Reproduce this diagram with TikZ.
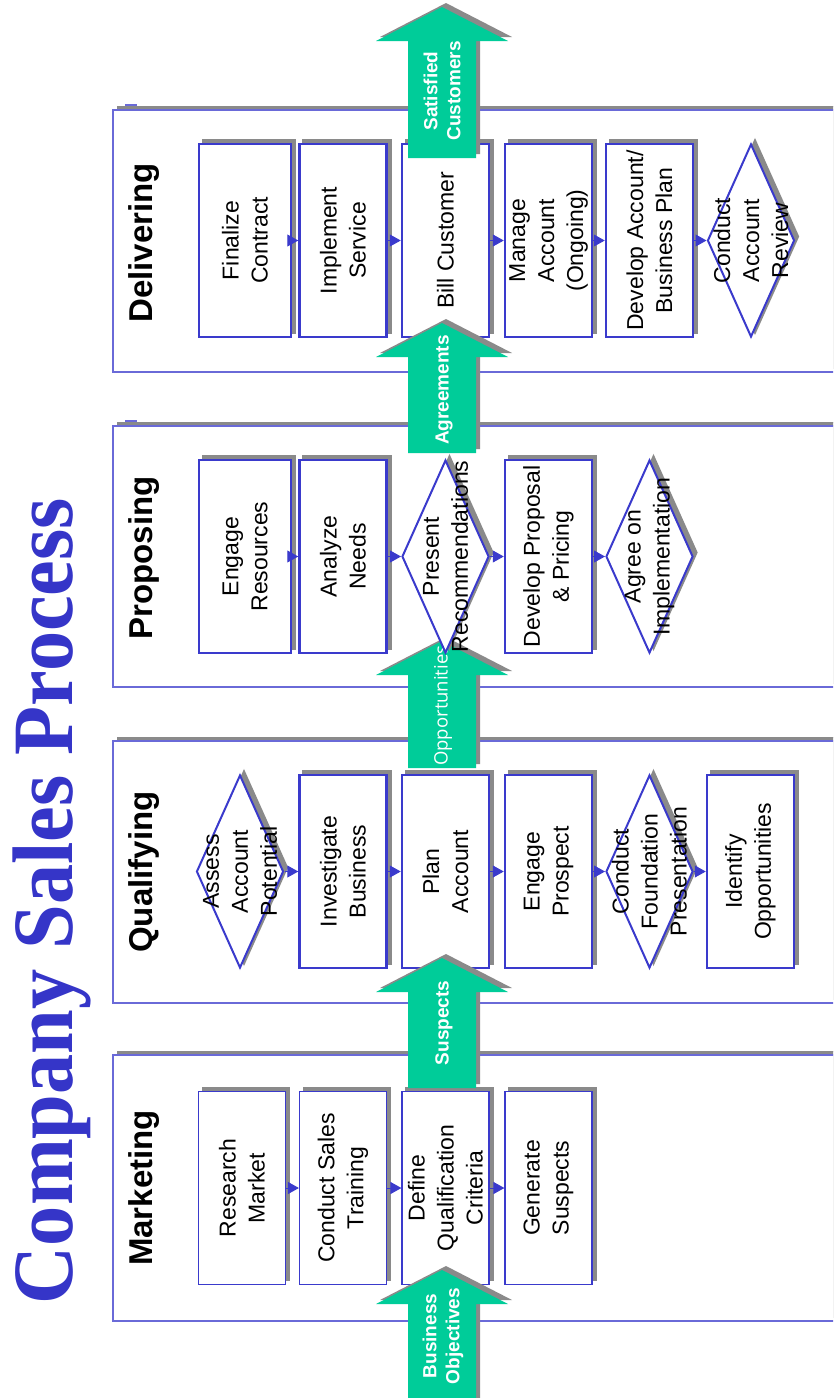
\documentclass[tikz,border=0pt]{standalone}
\usepackage{graphicx}
\usepackage{fontspec}
\setmainfont{Liberation Sans}
\newfontfamily\titlefont{Liberation Serif}
\newfontfamily\oppfont{Open Sans}
\usetikzlibrary{arrows.meta,shapes.geometric}
\definecolor{titleblue}{HTML}{3535C8}
\definecolor{boxblue}{HTML}{3A3ACC}
\definecolor{laneblue}{HTML}{6A6AD8}
\definecolor{flowgreen}{HTML}{00CC99}
\definecolor{shadowgray}{HTML}{8A8A8A}
\tikzset{
  shad/.style={preaction={fill=shadowgray, draw=shadowgray, transform canvas={xshift=4pt,yshift=4pt}}},
  lane/.style={draw=laneblue, line width=1.3pt, fill=white, shad},
  lanelabel/.style={rotate=90, anchor=base, inner sep=0pt, font=\fontsize{33}{38}\selectfont\bfseries},
  stepbox/.style={rotate=90, draw=boxblue, fill=white, line width=1.2pt, minimum width=193pt, minimum height=87pt, inner sep=0pt, align=center, font=\fontsize{23}{29}\selectfont, shad},
  boldbox/.style={stepbox, line width=2.5pt},
  decision/.style={diamond, rotate=90, draw=boxblue, fill=white, line width=2pt, minimum width=193pt, minimum height=87pt, inner sep=0pt, shad},
  dtext/.style={rotate=90, align=center, inner sep=0pt, font=\fontsize{23}{29}\selectfont},
  flow/.style={draw=boxblue, line width=1pt, -{Triangle[length=11pt,width=12pt]}},
  arrowtext/.style={rotate=90, align=center, inner sep=0pt, text=white, font=\fontsize{19}{23}\selectfont\bfseries},
  pics/bigarrow/.style={code={
    \fill[shadowgray,shift={(4,-4)}] (0,0) -- (66,34) -- (34,34) -- (34,#1) -- (-34,#1) -- (-34,34) -- (-66,34) -- cycle;
    \fill[flowgreen] (0,0) -- (66,34) -- (34,34) -- (34,#1) -- (-34,#1) -- (-34,34) -- (-66,34) -- cycle;
  }}
}
\begin{document}
\begin{tikzpicture}[x=1pt,y=-1pt]
\useasboundingbox (0,0) rectangle (833,1398);
\clip (0,0) rectangle (833,1398);
\fill[white] (0,0) rectangle (833,1398);

% title
\node[rotate=90, anchor=base, inner sep=0pt, text=titleblue, font=\titlefont\fontsize{86}{90}\selectfont\bfseries] (title) at (72,901) {\scalebox{0.934}[1]{Company Sales Process}};

% lanes
\draw[lane] (113,1055) rectangle (900,1321);
\draw[lane] (113,741) rectangle (900,1003);
\draw[lane] (113,426) rectangle (900,687);
\draw[lane] (113,110) rectangle (900,372);
\draw[laneblue, line width=2pt] (125,421) -- (137,421);
\draw[laneblue, line width=2pt] (125,105) -- (137,105);

\node[lanelabel] (l-mk) at (152,1188) {Marketing};
\node[lanelabel] (l-qu) at (152,872) {Qualifying};
\node[lanelabel] (l-pr) at (152,558) {Proposing};
\node[lanelabel] (l-de) at (152,243) {Delivering};

% Marketing
\node[stepbox] (rm) at (242,1188) {Research\\Market};
\node[stepbox] (cst) at (343,1188) {Conduct Sales\\Training};
\node[stepbox] (dqc) at (445.5,1188) {Define\\Qualification\\Criteria};
\node[stepbox] (gs) at (548.5,1188) {Generate\\Suspects};

% Qualifying
\node[boldbox] (ib) at (343,871.5) {Investigate\\Business};
\node[boldbox] (pa) at (445.5,871.5) {Plan\\Account};
\node[boldbox] (ep) at (548.5,871.5) {Engage\\Prospect};
\node[boldbox] (io) at (750.5,871.5) {Identify\\Opportunities};

% Proposing
\node[stepbox, minimum height=92pt] (er) at (245,556.5) {Engage\\Resources};
\node[boldbox] (an) at (343,556.5) {Analyze\\Needs};
\node[boldbox] (dpp) at (548.5,556.5) {Develop Proposal\\\& Pricing};

% Delivering
\node[stepbox, minimum height=92pt] (fc) at (245,240.5) {Finalize\\Contract};
\node[boldbox] (is) at (343,240.5) {Implement\\Service};
\node[boldbox] (bc) at (445.5,240.5) {Bill Customer};
\node[boldbox] (ma) at (548.5,240.5) {Manage\\Account\\(Ongoing)};
\node[boldbox] (dab) at (649.5,240.5) {Develop Account/\\Business Plan};

% big green arrows
\pic (a-bo) at (442,1270) {bigarrow=140};
\pic (a-su) at (442,958) {bigarrow=130};
\pic (a-op) at (442,641) {bigarrow=127};
\pic (a-ag) at (442,323) {bigarrow=130};
\pic (a-sc) at (442,7) {bigarrow=151};

\node[arrowtext] (t-bo) at (443,1336) {Business\\Objectives};
\node[arrowtext] (t-su) at (444,1023) {Suspects};
\node[arrowtext, anchor=west, font=\oppfont\fontsize{18.5}{22}\selectfont] (t-op) at (443,766) {Opportunities};
\node[arrowtext] (t-ag) at (444,390) {Agreements};
\node[arrowtext] (t-sc) at (442,91) {Satisfied\\Customers};

% decisions
\node[decision] (aap) at (240,871.5) {};
\node[decision] (cfp) at (649.5,871.5) {};
\node[decision] (pr) at (445.5,556.5) {};
\node[decision] (aoi) at (649.5,556.5) {};
\node[decision] (car) at (751,240.5) {};

\node[dtext] (t-aap) at (aap) {Assess\\Account\\Potential};
\node[dtext] (t-cfp) at (cfp) {Conduct\\Foundation\\Presentation};
\node[dtext] (t-pr) at (pr) {Present\\Recommendations};
\node[dtext] (t-aoi) at (aoi) {Agree on\\Implementation};
\node[dtext] (t-car) at (car) {Conduct\\Account\\Review};

% connectors
\draw[flow] (rm) -- (cst);
\draw[flow] (cst) -- (dqc);
\draw[flow] (dqc) -- (gs);

\draw[flow] (aap) -- (ib);
\draw[flow] (ib) -- (pa);
\draw[flow] (pa) -- (ep);
\draw[flow] (ep) -- (cfp);
\draw[flow] (cfp) -- (io);

\draw[flow] (er) -- (an);
\draw[flow] (an) -- (pr);
\draw[flow] (pr) -- (dpp);
\draw[flow] (dpp) -- (aoi);

\draw[flow] (fc) -- (is);
\draw[flow] (is) -- (bc);
\draw[flow] (bc) -- (ma);
\draw[flow] (ma) -- (dab);
\draw[flow] (dab) -- (car);
\end{tikzpicture}
\end{document}
